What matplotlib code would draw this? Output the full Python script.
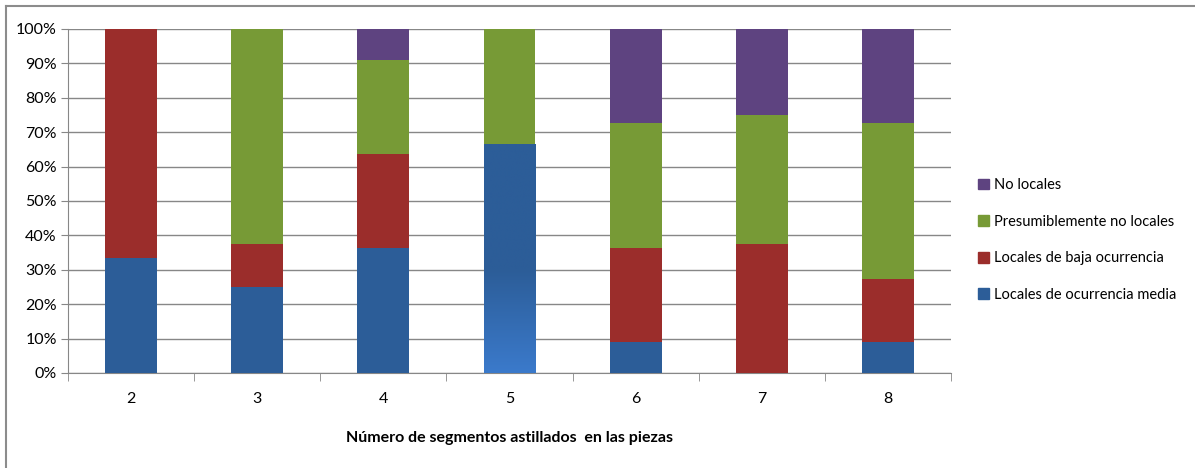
import numpy as np
import matplotlib.pyplot as plt
from matplotlib.lines import Line2D
from matplotlib.colors import LinearSegmentedColormap

plt.rcParams['font.family'] = ['Lato', 'DejaVu Sans']

categories = ['2', '3', '4', '5', '6', '7', '8']
series = ['Locales de ocurrencia media', 'Locales de baja ocurrencia',
          'Presumiblemente no locales', 'No locales']
# shares (%) per category, bottom to top
media = [33.3, 25.0, 36.4, 66.7, 9.1, 0.0, 9.1]
baja = [66.7, 12.5, 27.3, 0.0, 27.3, 37.5, 18.2]
presum = [0.0, 62.5, 27.3, 33.3, 36.4, 37.5, 45.5]
no_loc = [0.0, 0.0, 9.1, 0.0, 27.2, 25.0, 27.2]
colors = ['#2c5d98', '#9b2d2b', '#779a36', '#5e4380']

W, H = 1195, 468
fig = plt.figure(figsize=(W / 100, H / 100), dpi=100)
ax = fig.add_axes([68 / W, 1 - 373 / H, (951 - 68) / W, (373 - 29) / H])

x = np.arange(len(categories))
bottom = np.zeros(len(categories))
bw = 0.41
for vals, c in zip([media, baja, presum, no_loc], colors):
    v = np.array(vals)
    bars = ax.bar(x, v, bw, bottom=bottom, color=c, zorder=3, linewidth=0)
    bottom += v

# lighter gradient at the foot of the tall blue bar, clipped to the bar
i5 = categories.index('5')
seg = ax.patches[i5]
grad = LinearSegmentedColormap.from_list('g', ['#3b7acb', colors[0]])
ys = np.linspace(0, media[i5], 256)
shade = np.clip(ys / 30.0, 0, 1).reshape(-1, 1)
img = ax.imshow(shade, cmap=grad, aspect='auto', origin='lower',
                interpolation='bilinear',
                extent=(i5 - bw / 2 - 0.02, i5 + bw / 2 + 0.02, 0, media[i5]),
                zorder=4)
img.set_clip_path(seg)

ax.set_xlim(-0.5, len(categories) - 0.5)
ax.set_ylim(0, 100)
ax.set_yticks(np.arange(0, 101, 10))
ax.set_yticklabels([f'{t}%' for t in range(0, 101, 10)], fontsize=11.5)
ax.set_xticks(x)
ax.set_xticklabels(categories, fontsize=11.5)
ax.set_xticks(np.arange(-0.5, len(categories)), minor=True)
ax.tick_params(axis='x', which='major', length=0, pad=14)
ax.tick_params(axis='x', which='minor', length=6, color='#878787')
ax.tick_params(axis='y', length=5, color='#878787', pad=3)
ax.grid(axis='y', color='#878787', linewidth=1, zorder=0)
for s in ['top', 'right']:
    ax.spines[s].set_visible(False)
for s in ['left', 'bottom']:
    ax.spines[s].set_color('#878787')
ax.set_xlabel('Número de segmentos astillados  en las piezas',
              fontsize=11.5, fontweight='bold', labelpad=18)

handles = [plt.Rectangle((0, 0), 1, 1, color=c) for c in colors[::-1]]
fig.legend(handles, series[::-1], loc='center left',
           bbox_to_anchor=(972 / W, 1 - 240 / H), frameon=False,
           fontsize=10.5, handlelength=0.75, handleheight=0.75,
           handletextpad=0.35, labelspacing=1.55, borderaxespad=0)

# chart area border (left and top edges)
fig.add_artist(Line2D([6 / W, 6 / W], [0, 1 - 6 / H], color='#8c8c8c',
                      linewidth=1.5, transform=fig.transFigure))
fig.add_artist(Line2D([6 / W, 1], [1 - 6 / H, 1 - 6 / H], color='#8c8c8c',
                      linewidth=1.5, transform=fig.transFigure))

fig.savefig('out.png', dpi=100)
